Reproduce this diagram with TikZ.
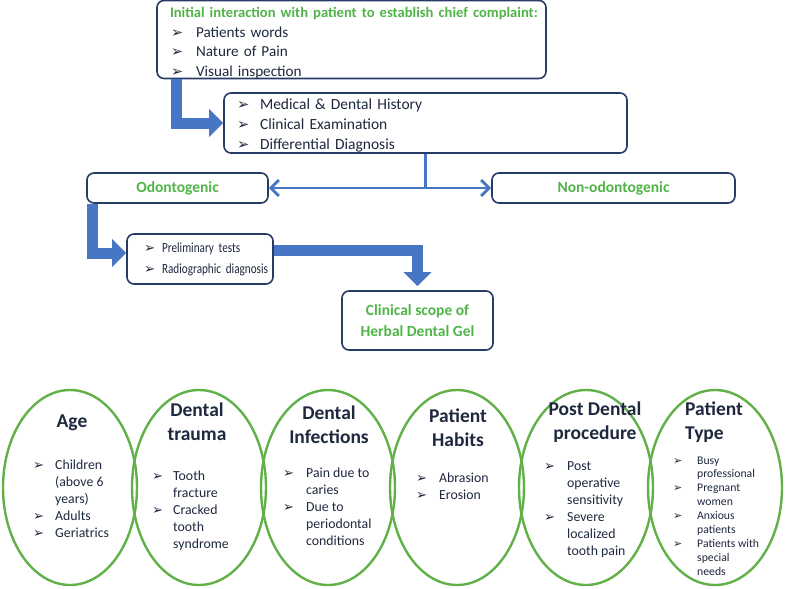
\documentclass[tikz,border=0pt]{standalone}
\usepackage{fontspec}
\setmainfont{Carlito}
\newfontfamily\symfont{DejaVu Sans}
\newfontfamily\narrowfont[FakeStretch=0.8]{Carlito}
\usetikzlibrary{shapes.geometric,arrows.meta}
\definecolor{leaf}{RGB}{80,180,72}
\definecolor{ringgreen}{RGB}{98,176,72}
\definecolor{frame}{RGB}{38,60,102}
\definecolor{flow}{RGB}{70,118,196}
\definecolor{ink}{RGB}{30,40,62}
\newlength\padl \newlength\bw
\newcommand\bsym{\scalebox{0.95}{\symfont\char"27A2}}
\newcommand\bul{\hspace*{\padl}\makebox[\bw][l]{\bsym}}
\newcommand\ind{\hspace*{\padl}\hspace*{\bw}}
\tikzset{
  box/.style={draw=frame,line width=1.6pt,rounded corners=7pt,fill=white,inner xsep=0pt,inner ysep=0pt,align=left,text=ink},
  head/.style={box,align=center,text=leaf,font=\fontsize{15.5}{21}\selectfont\bfseries},
  ring/.style={ellipse,draw=ringgreen,line width=2.4pt,minimum width=134,minimum height=195,inner sep=0pt},
  ringtitle/.style={inner sep=0pt,align=center,text=ink,font=\fontsize{19.5}{24}\selectfont\bfseries},
  ringlist/.style={anchor=north west,inner sep=0pt,align=left,text=ink,font=\fontsize{13.8}{17}\selectfont},
  bigarrow/.style={draw=flow,line width=11pt,-{Triangle[width=27pt,length=14pt]}},
  link/.style={draw=flow,line width=2.8pt},
  padl/.style={execute at begin node={\setlength\padl{#1}}},
  bw/.style={execute at begin node={\setlength\bw{#1}}}
}
\begin{document}
\begin{tikzpicture}[x=1pt,y=-1pt]
\useasboundingbox[fill=white](0,0) rectangle (790,589);
\node[box,text width=389,minimum height=75,font=\fontsize{15.2}{19.5}\selectfont,padl=14pt,bw=25pt] (intro) at (351.5,39.5)
  {\rule{0pt}{17pt}\hspace*{13pt}\mbox{\fontsize{14.6}{19.5}\selectfont\color{leaf}\bfseries Initial interaction with patient to establish chief complaint:}\\
   \bul Patients words\\ \bul Nature of Pain\\ \bul Visual inspection};
\node[box,text width=403,minimum height=60,font=\fontsize{15.5}{20}\selectfont,padl=13pt,bw=23pt] (facts) at (425.5,123)
  {\rule{0pt}{16.5pt}\bul Medical \& Dental History\\ \bul Clinical Examination\\ \bul Differential Diagnosis};
\node[head,minimum width=181,minimum height=30] (odon) at (177.5,188) {Odontogenic};
\node[box,text width=146,minimum height=50,font=\narrowfont\fontsize{14}{21}\selectfont,padl=17pt,bw=18pt] (tests) at (200,259)
  {\bul Preliminary tests\\ \bul Radiographic diagnosis};
\node[head,minimum width=243,minimum height=30] (nonodon) at (613.5,188) {Non-odontogenic};
\node[head,minimum width=151,minimum height=59] (scope) at (417.5,320.5) {Clinical scope of\\Herbal Dental Gel};

\draw[link] (facts.south) -- (facts.south |- odon.east) coordinate (split);
\draw[link,-{Straight Barb[length=8pt,width=16pt]}] (split) -- (odon.east);
\draw[link,-{Straight Barb[length=8pt,width=16pt]}] (split) -- (nonodon.west);
\draw[bigarrow] ([xshift=20pt]intro.south west) |- (facts.west);
\draw[bigarrow] ([xshift=6pt]odon.south west) |- ([yshift=6pt]tests.west);
\draw[bigarrow] ([yshift=9pt]tests.east) -| ([yshift=4pt]scope.north);

\foreach \nm/\x in {age/70,trauma/199,infect/328,habit/457,post/586,kind/715}
  \node[ring] (\nm) at (\x,487.5) {};

\node[ringtitle] (agetitle) at (72,423) {Age};
\node[ringtitle] (traumatitle) at (197,422) {Dental\\trauma};
\node[ringtitle] (infecttitle) at (329,425) {Dental\\Infections};
\node[ringtitle] (habittitle) at (458,428) {Patient\\Habits};
\node[ringtitle] (posttitle) at (595,422) {Post Dental\\procedure};
\node[ringtitle,align=left,anchor=west] (kindtitle) at (685,422) {Patient\\Type};

\node[ringlist,padl=0pt,bw=22pt] (agelist) at (33,459.5)
  {\bul Children\\ \ind (above 6\\ \ind years)\\ \bul Adults\\ \bul Geriatrics};
\node[ringlist,padl=0pt,bw=21pt] (traumalist) at (152,470.5)
  {\bul Tooth\\ \ind fracture\\ \bul Cracked\\ \ind tooth\\ \ind syndrome};
\node[ringlist,padl=0pt,bw=23pt] (infectlist) at (283,467.5)
  {\bul Pain due to\\ \ind caries\\ \bul Due to\\ \ind periodontal\\ \ind conditions};
\node[ringlist,padl=0pt,bw=23pt] (habitlist) at (416,472.5)
  {\bul Abrasion\\ \bul Erosion};
\node[ringlist,padl=0pt,bw=23pt] (postlist) at (544,461.5)
  {\bul Post\\ \ind operative\\ \ind sensitivity\\ \bul Severe\\ \ind localized\\ \ind tooth pain};
\node[ringlist,padl=0pt,bw=24pt,font=\fontsize{11.7}{13.9}\selectfont] (kindlist) at (673,456.3)
  {\bul Busy\\ \ind professional\\ \bul Pregnant\\ \ind women\\ \bul Anxious\\ \ind patients\\ \bul Patients with\\ \ind special\\ \ind needs};
\end{tikzpicture}
\end{document}
